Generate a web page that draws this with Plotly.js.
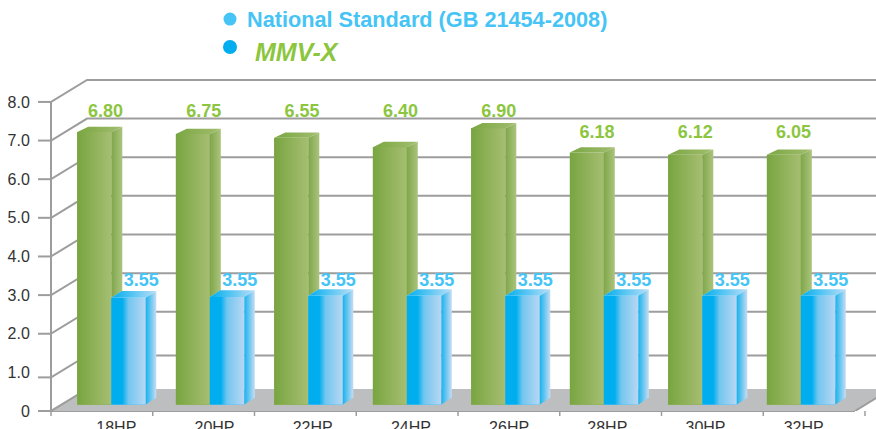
<!DOCTYPE html>
<html>
<head>
<meta charset="utf-8">
<script src="https://cdn.plot.ly/plotly-3.0.1.min.js"></script>
<style>html,body{margin:0;padding:0;background:#fff;overflow:hidden}#chart{width:876px;height:429px}</style>
</head>
<body>
<div id="chart"></div>
<script>
// ---- data ----
const categories = ["18HP","20HP","22HP","24HP","26HP","28HP","30HP","32HP"];
const greenLabels = ["6.80","6.75","6.55","6.40","6.90","6.18","6.12","6.05"];
const blueLabels = ["3.55","3.55","3.55","3.55","3.55","3.55","3.55","3.55"];
// heights of the bars as drawn against the axis (the printed labels differ from them)
const greenHeights = [7.22,7.17,7.07,6.83,7.32,6.69,6.63,6.63];
const blueHeights = [2.93,2.95,2.98,2.98,2.98,2.98,2.98,2.98];
// heights at which the printed labels sit
const greenLabelHeights = [7.73,7.73,7.73,7.73,7.73,7.19,7.19,7.19];
const blueLabelHeights = [3.34,3.34,3.34,3.34,3.34,3.34,3.34,3.34];
const yTickValues = [0,1,2,3,4,5,6,7,8];
const yTickText = ["0","1.0","2.0","3.0","4.0","5.0","6.0","7.0","8.0"];
const gridValues = [0,0.87,2,3,4,5,6,7,8];
const legendNames = ["National Standard (GB 21454-2008)","MMV-X"];

// ---- geometry ----
const W=876,H=429,L=51,T=70,B=411.5,PXX=98.5,PXY=38.69,C0=111.3;
const PW=W-L,PH=B-T;
const dx=p=>p/PXX, dy=p=>p/PXY;
const X=p=>(p-C0)/PXX;
const PX=p=>(p-L)/PW, PY=p=>(B-p)/PH;
const base=dy(6.5);
const FONT='"Liberation Sans", Arial, sans-serif';
const GRID='#9d9d9d';

const traces=[];
function solidBars(from,width,heights,color){
  traces.push({type:'bar',x:categories.map((_,i)=>i+from+width/2),
    y:heights.map(h=>h-base),base:heights.map(()=>base),width:width,
    marker:{color:color,line:{width:0}},hoverinfo:'skip'});
}
function poly(xs,ys,scale,x1,x2){
  traces.push({type:'scatter',mode:'lines',x:xs.concat(xs[0]),y:ys.concat(ys[0]),fill:'toself',
    line:{width:0},hoverinfo:'skip',
    fillgradient:{type:'horizontal',start:x1,stop:x2,colorscale:scale}});
}
const GW=34,BW=34.5,GDX=11,GDY=5.3,BDX=10.5,BDY=6.7;
solidBars(-dx(GW),dx(GW),greenHeights,'#8fb158');
solidBars(0,dx(BW),blueHeights,'#5cc0ef');
const greenFront=[[0,'#78a540'],[1,'#a6be72']];
const blueFront=[[0,'#00aeef'],[0.32,'#00aeef'],[0.5,'#73c6ef'],[1,'#b8d7f3']];
categories.forEach((_,i)=>{
  const g=greenHeights[i],b=blueHeights[i];
  const gl=i-dx(GW),br=i+dx(BW);
  // green front, top and side
  poly([gl,i,i,gl],[base,base,g,g],greenFront,gl,i);
  poly([gl,gl+dx(GDX),i+dx(GDX),i],[g,g+dy(GDY),g+dy(GDY),g],[[0,'#7aa743'],[1,'#a2bd6e']],gl,i+dx(GDX));
  poly([i,i+dx(GDX),i+dx(GDX),i],[g,g+dy(GDY),b+dy(BDY),b],[[0,'#7fa64a'],[1,'#abc47d']],i,i+dx(GDX));
  // blue front, top and side
  poly([i,br,br,i],[base,base,b,b],blueFront,i,br);
  poly([i,i+dx(BDX),br+dx(BDX),br],[b,b+dy(BDY),b+dy(BDY),b],[[0,'#00aeef'],[1,'#b8def6']],i,br+dx(BDX));
  poly([br,br+dx(BDX),br+dx(BDX),br],[b,b+dy(BDY),base+dy(BDY),base],[[0,'#18b2ee'],[1,'#c6ddf4']],br,br+dx(BDX));
});
traces.push({type:'scatter',mode:'text',x:categories.map((_,i)=>X(105.5+98.3*i)),y:greenLabelHeights,text:greenLabels,
  textposition:'middle center',textfont:{family:FONT,size:18,color:'#8cc63f',weight:'bold'},hoverinfo:'skip',cliponaxis:false});
traces.push({type:'scatter',mode:'text',x:categories.map((_,i)=>i+dx(30)),y:blueLabelHeights,text:blueLabels,
  textposition:'middle center',textfont:{family:FONT,size:18,color:'#45c4f5',weight:'bold'},hoverinfo:'skip',cliponaxis:false});

const shapes=[];
// floor
const fl=X(51),fr=X(855),wd=dy(22),wx=dx(36);
shapes.push({type:'path',layer:'below',xref:'x',yref:'y',line:{width:0},fillcolor:'#bcbec0',
  path:`M${fl},0 L${fl+wx},${wd} L${fr+wx},${wd} L${fr},0 Z`});
// wall grid lines
gridValues.forEach(v=>{
  if(v===0)return;
  shapes.push({type:'path',layer:'below',xref:'x',yref:'y',line:{color:GRID,width:2},
    path:`M${fl},${v} L${fl+wx},${v+wd} L${X(W+5)},${v+wd}`});
  shapes.push({type:'line',layer:'below',xref:'paper',yref:'y',x0:PX(38),x1:PX(51),y0:v,y1:v,line:{color:GRID,width:2}});
});
shapes.push({type:'line',layer:'below',xref:'paper',yref:'paper',x0:PX(38),x1:PX(51),y0:0,y1:0,line:{color:GRID,width:2}});
shapes.push({type:'line',layer:'below',xref:'paper',yref:'y',x0:0,x1:0,y0:0,y1:8,line:{color:GRID,width:2}});
shapes.push({type:'path',layer:'below',xref:'x',yref:'y',line:{color:GRID,width:2},
  path:`M${fl},0 L${fl+wx},${wd}`});
shapes.push({type:'line',layer:'below',xref:'paper',yref:'paper',x0:0,x1:PX(855),y0:0,y1:0,line:{color:GRID,width:2}});
shapes.push({type:'path',layer:'below',xref:'x',yref:'y',line:{color:GRID,width:2},
  path:`M${fr},0 L${fr+wx},${wd}`});
// x tick marks
for(let k=0;k<9;k++){
  const p=51+101.75*k;
  shapes.push({type:'line',layer:'below',xref:'paper',yref:'paper',x0:PX(p),x1:PX(p),y0:0,y1:PY(416.5),line:{color:GRID,width:1.5}});
}
// legend dots
[[230,19,6.5,'#45c4f5'],[230,47,7,'#00aeef']].forEach(d=>{
  shapes.push({type:'circle',xref:'paper',yref:'paper',x0:PX(d[0]-d[2]),x1:PX(d[0]+d[2]),y0:PY(d[1]+d[2]),y1:PY(d[1]-d[2]),
    fillcolor:d[3],line:{width:0}});
});

const layout={
  width:W,height:H,autosize:false,showlegend:false,
  paper_bgcolor:'#fff',plot_bgcolor:'rgba(0,0,0,0)',
  margin:{l:L,r:0,t:T,b:H-B,pad:0},
  barmode:'overlay',bargap:0,
  font:{family:FONT,color:'#333'},
  xaxis:{range:[X(L),X(W)],tickmode:'array',tickvals:categories.map((_,i)=>i+dx(5-0.3*i)),ticktext:categories,
    showgrid:false,zeroline:false,showline:false,ticks:'outside',ticklen:2,tickcolor:'rgba(0,0,0,0)',
    tickfont:{family:FONT,size:16,color:'#333'},fixedrange:true,automargin:false},
  yaxis:{range:[0,PH/PXY],tickmode:'array',tickvals:yTickValues,ticktext:yTickText,
    showgrid:false,zeroline:false,showline:false,ticks:'outside',ticklen:17,tickcolor:'rgba(0,0,0,0)',
    tickfont:{family:FONT,size:16,color:'#333'},fixedrange:true,automargin:false},
  shapes:shapes,
  annotations:[
    {xref:'paper',yref:'paper',x:PX(245),y:PY(19),xanchor:'left',yanchor:'middle',showarrow:false,text:'<b>'+legendNames[0]+'</b>',
     font:{family:FONT,size:21.7,color:'#45c4f5'}},
    {xref:'paper',yref:'paper',x:PX(253),y:PY(52),xanchor:'left',yanchor:'middle',showarrow:false,text:'<b><i>'+legendNames[1]+'</i></b>',
     font:{family:FONT,size:25,color:'#8cc63f'}}
  ]
};
Plotly.newPlot('chart',traces,layout,{displayModeBar:false});
</script>
</body>
</html>
